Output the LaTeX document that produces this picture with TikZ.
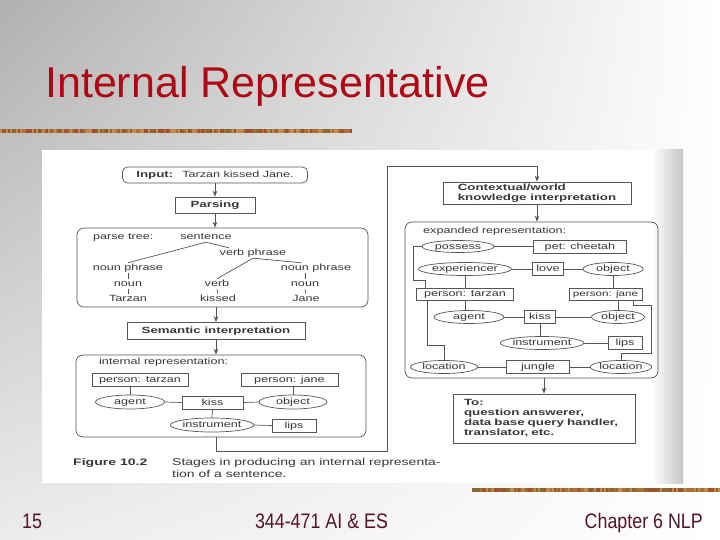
\documentclass[tikz,border=0pt]{standalone}
\usepackage{fontspec}
\setmainfont{Liberation Sans}
\newfontfamily\figfont[FakeStretch=1.4]{Liberation Sans}
\newfontfamily\figbf[FakeStretch=1.48]{Liberation Sans}
\newfontfamily\footfont[FakeStretch=0.85]{Liberation Sans}
\usetikzlibrary{shapes.geometric,arrows.meta,calc,shadings}
\definecolor{titlered}{RGB}{175,8,20}
\definecolor{footcol}{RGB}{85,20,40}
\definecolor{figline}{RGB}{85,85,85}
\definecolor{figtext}{RGB}{55,55,55}
\definecolor{bar1}{RGB}{175,110,50}
\definecolor{bar2}{RGB}{135,105,50}
\definecolor{bar3}{RGB}{160,80,45}
\definecolor{bar4}{RGB}{190,140,75}
\tikzset{
  ftxt/.style={font=\figfont\fontsize{9}{10}\selectfont, text=figtext},
  fbold/.style={font=\figbf\bfseries\fontsize{9}{10}\selectfont, text=figtext},
  mbox/.style={draw=figline, line width=0.7pt, rectangle, inner sep=0pt, ftxt},
  sbox/.style={mbox, text height=6.5pt, text depth=1.5pt},
  sell/.style={draw=figline, line width=0.7pt, ellipse, inner sep=0pt, ftxt, text height=6.5pt, text depth=1.5pt},
  panel/.style={draw=figline, line width=0.7pt, rectangle, rounded corners=7pt, inner sep=0pt},
  lbl/.style={ftxt, inner sep=1pt, text height=6.5pt, text depth=1.5pt},
  con/.style={draw=figline, line width=0.7pt},
  arr/.style={con, -{Stealth[length=6pt,width=4.5pt]}},
  foot/.style={inner sep=0pt, text=footcol, font=\footfont\fontsize{21}{24}\selectfont},
}
\begin{document}
\begin{tikzpicture}[x=1pt,y=-1pt]
\useasboundingbox (0,0) rectangle (720,540);
% slide background
\shade[upper left=gray!62, upper right=white, lower left=gray!15, lower right=white] (0,0) rectangle (720,540);
% decorative bars
\pgfmathsetseed{7}
\foreach \k in {0,...,175} {\pgfmathrandominteger{\c}{1}{4}\fill[fill=bar\c] (2*\k,129) rectangle ++(2,4);}
\foreach \k in {0,...,123} {\pgfmathrandominteger{\c}{1}{4}\fill[fill=bar\c] (472+2*\k,488) rectangle ++(2,4);}
% title and footer
\node[anchor=base west, inner sep=0pt, text=titlered, font=\fontsize{43}{48}\selectfont] (title) at (45,98) {Internal Representative};
\node[foot, anchor=base west] (pg) at (22,528) {15};
\node[foot, anchor=base] (course) at (321.5,528) {344-471 AI \& ES};
\node[foot, anchor=base east] (chap) at (703,528) {Chapter 6 NLP};
% scanned page
\fill[white] (42,150) rectangle (683,483);
\shade[left color=white, right color=gray!45] (652,150) rectangle (683,483);

% ---------- left column ----------
\node[sbox, rounded corners=5pt, minimum width=185, minimum height=16] (inp) at (215,175) {{\figbf\bfseries Input:}\hspace{9pt}Tarzan kissed Jane.};
\node[sbox, fbold, minimum width=80, minimum height=16] (pars) at (215,205) {Parsing};
\node[panel, minimum width=291, minimum height=79] (ptree) at (222.5,267.5) {};
\node[lbl, anchor=west] (ptl) at (92,237) {parse tree:};
\node[lbl] (sent) at (206,237) {sentence};
\node[lbl] (vp) at (253,253) {verb phrase};
\node[lbl] (np1) at (128,268) {noun phrase};
\node[lbl] (n1) at (128,284) {noun};
\node[lbl] (t1) at (128,299) {Tarzan};
\node[lbl] (v) at (217,284) {verb};
\node[lbl] (k) at (218,299) {kissed};
\node[lbl] (np2) at (316,268) {noun phrase};
\node[lbl] (n2) at (305,284) {noun};
\node[lbl] (j) at (306,299) {Jane};
\draw[con] (sent.south) -- (np1.north);
\draw[con] (sent.south) -- ($(vp.north west)!0.15!(vp.north east)$);
\draw[con] (vp.south) -- (v.north);
\draw[con] (vp.south) -- ($(np2.north west)!0.3!(np2.north east)$);
\draw[con] (np1.south) -- (n1.north);
\draw[con] (n1.south) -- (t1.north);
\draw[con] (v.south) -- (k.north);
\draw[con] (n2.north) -- (n2.north |- np2.south);
\draw[con] (n2.south) -- (j.north);
\node[sbox, fbold, minimum width=178, minimum height=17] (sem) at (216,331) {Semantic interpretation};
\node[panel, minimum width=290, minimum height=82] (irep) at (221,396) {};
\node[lbl, anchor=west] (irl) at (98,362) {internal representation:};
\node[sbox, minimum width=96, minimum height=13] (pt) at (140,379.5) {person: tarzan};
\node[sbox, minimum width=97, minimum height=13] (pj) at (289.5,379.5) {person: jane};
\node[sell, minimum width=69, minimum height=14] (ag) at (130,402) {agent};
\node[sbox, minimum width=61, minimum height=13] (ks) at (212.5,402.5) {kiss};
\node[sell, minimum width=68, minimum height=14] (ob) at (293,402) {object};
\node[sell, minimum width=80, minimum height=14] (ins1) at (212,425) {instrument};
\node[sbox, minimum width=44, minimum height=13] (lp) at (294,425.5) {lips};
\draw[arr] (inp.south) -- (pars.north);
\draw[arr] (pars.south) -- (pars.south |- ptree.north);
\draw[arr] (sem.north |- ptree.south) -- (sem.north);
\draw[arr] (sem.south) -- (sem.south |- irep.north);
\draw[con] (ag.north) -- (ag.north |- pt.south);
\draw[con] (ob.north) -- (ob.north |- pj.south);
\draw[con] (ag.east) -- (ks.west);
\draw[con] (ks.east) -- (ob.west);
\draw[con] (ks.south) -- (ins1.north);
\draw[con] (ins1.east) -- (lp.west);

% ---------- right column ----------
\node[mbox, fbold, minimum width=188, minimum height=22, align=left] (ctx) at (537,193) {Contextual/world\\knowledge interpretation};
\coordinate (loopb) at (387,451);
\coordinate (loopt) at (387,166);
\draw[arr] (sem.south |- irep.south) -- (sem.south |- loopb) -- (loopb) -- (loopt) -| (ctx.north);
\node[panel, minimum width=253, minimum height=156] (exp) at (531.5,300) {};
\draw[arr] (ctx.south) -- (ctx.south |- exp.north);
\node[lbl, anchor=west] (erl) at (422,231) {expanded representation:};
\node[sell, minimum width=72, minimum height=12] (pos) at (458,246.5) {possess};
\node[sbox, minimum width=93, minimum height=13] (pc) at (580,246.5) {pet: cheetah};
\node[sell, minimum width=80, minimum height=13] (exr) at (465,269) {experiencer};
\node[sbox, minimum width=31, minimum height=13] (lv) at (548,269) {love};
\node[sell, minimum width=60, minimum height=13] (ob1) at (613,269) {object};
\node[sbox, minimum width=97, minimum height=12] (ptz) at (465,294) {person: tarzan};
\node[sbox, minimum width=73, minimum height=12, font=\figfont\fontsize{8.3}{10}\selectfont] (pjn) at (605.5,294) {person: jane};
\node[sell, minimum width=70, minimum height=13] (agt) at (469,317) {agent};
\node[sbox, minimum width=31, minimum height=13] (ks2) at (540,317) {kiss};
\node[sell, minimum width=53, minimum height=13] (ob2) at (618,317) {object};
\node[sell, minimum width=79, minimum height=13] (ins2) at (542,343) {instrument};
\node[sbox, minimum width=34, minimum height=13] (lp2) at (625,343) {lips};
\node[sell, minimum width=67, minimum height=13] (loc1) at (444,367) {location};
\node[sbox, minimum width=63, minimum height=13] (jg) at (538,367) {jungle};
\node[sell, minimum width=58, minimum height=13] (loc2) at (621,367) {location};
\draw[con] (pos.east) -- (pc.west);
\draw[con] (exr.east) -- (lv.west);
\draw[con] (lv.east) -- (ob1.west);
\draw[con] (ob1.south) -- (ob1.south |- pjn.north);
\draw[con] (exr.south) -- (exr.south |- ptz.north);
\coordinate (pa) at (413,280);
\coordinate (pb) at (425,280);
\draw[con] (pos.west) -| (pa) -- (pb) -- (pb |- ptz.north);
\draw[con] (ptz.south) -- (ptz.south |- agt.north);
\coordinate (pc1) at (427,345);
\draw[con] (pc1 |- ptz.south) -- (pc1) -| (loc1.north);
\draw[con] (agt.east) -- (ks2.west);
\draw[con] (ks2.east) -- (ob2.west);
\draw[con] (ks2.south) -- (ks2.south |- ins2.north);
\draw[con] (ins2.east) -- (lp2.west);
\draw[con] (ob2.north) -- (ob2.north |- pjn.south);
\coordinate (q1) at (633,305);
\coordinate (q2) at (651,305);
\coordinate (q3) at (651,353);
\draw[con] (q1 |- pjn.south) -- (q1) -- (q2) -- (q3) -| (loc2.north);
\draw[con] (loc1.east) -- (jg.west);
\draw[con] (jg.east) -- (loc2.west);
\node[mbox, fbold, minimum width=182, minimum height=49, text width=160, inner xsep=11pt, align=left] (to) at (544,418.5) {To:\\question answerer,\\data base query handler,\\translator, etc.};
\draw[arr] (to.north |- exp.south) -- (to.north);
% caption
\node[anchor=base west, inner sep=0pt, fbold, font=\figbf\bfseries\fontsize{9.5}{12}\selectfont] (figno) at (73,465) {Figure 10.2};
\node[anchor=base west, inner sep=0pt, ftxt, font=\figfont\fontsize{10}{12}\selectfont] (cap1) at (172,465) {Stages in producing an internal representa-};
\node[anchor=base west, inner sep=0pt, ftxt, font=\figfont\fontsize{10}{12}\selectfont] (cap2) at (172,477) {tion of a sentence.};
\end{tikzpicture}
\end{document}
